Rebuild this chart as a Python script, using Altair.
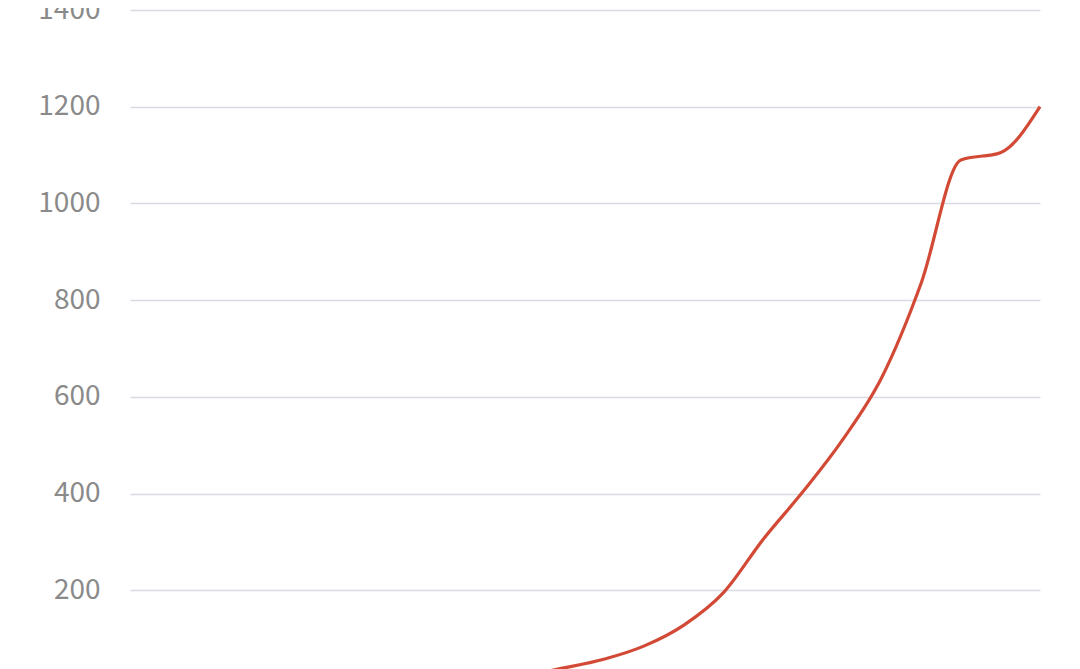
import altair as alt
import pandas as pd

years = list(range(2000, 2024))
values = [3, 4, 5, 6, 8, 10, 12, 14, 17, 21, 25, 40,
          58, 85, 128, 195, 305, 403, 510, 640, 836, 1090, 1105, 1200]

df = pd.DataFrame({"year": years, "value": values})

line = alt.Chart(df).mark_line(
    interpolate="monotone", color="#d24a36", strokeWidth=3.2
).encode(
    x=alt.X("year:Q", axis=None, scale=alt.Scale(domain=[years[0], years[-1]], nice=False, zero=False)),
    y=alt.Y("value:Q", scale=alt.Scale(domain=[0, 1400], nice=False),
            axis=alt.Axis(values=[0, 200, 400, 600, 800, 1000, 1200, 1400],
                          format="d",
                          title=None, domain=False, ticks=False,
                          labelFont="Noto Sans CJK SC", labelFontSize=28,
                          labelColor="#8a8a8a", labelPadding=30,
                          gridColor="#dadce4", gridWidth=1.5,
                          labelFlush=False))
)

chart = line.properties(
    width=910, height=677,
    autosize=alt.AutoSizeParams(type="none"),
    padding={"left": 122, "top": 2, "right": 30, "bottom": 0},
).configure_view(stroke=None)

chart.save("out.html", embed_options={"renderer": "svg", "actions": False})
